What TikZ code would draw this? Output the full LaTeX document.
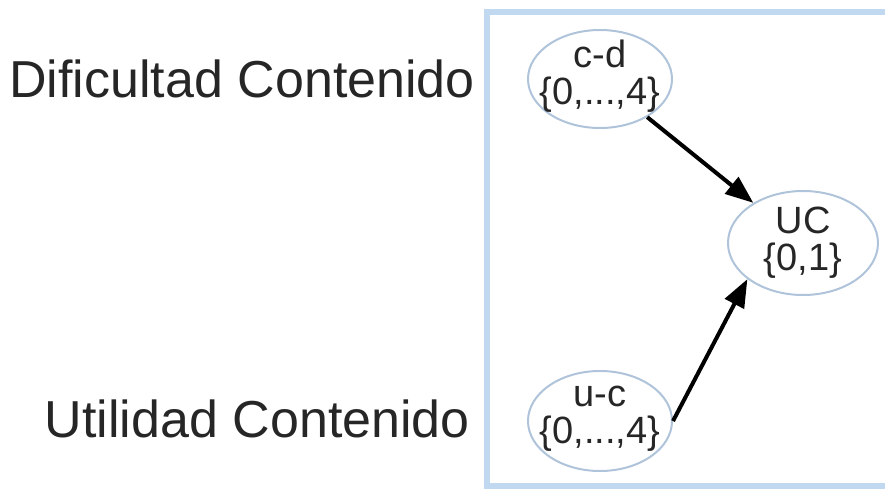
\documentclass[tikz,border=0pt]{standalone}
\usepackage{fontspec}
\setmainfont{Liberation Sans}
\usetikzlibrary{shapes.geometric,arrows.meta}
\definecolor{ovalcol}{RGB}{175,195,218}
\definecolor{framecol}{RGB}{192,216,240}
\begin{document}
\begin{tikzpicture}[x=1pt, y=-1pt,
    var/.style={draw=ovalcol, line width=2pt, ellipse, inner sep=-24pt, align=center,
        text=black!85, font=\fontsize{38}{37}\selectfont},
    caption/.style={anchor=base east, inner sep=0pt, text=black!85,
        font=\fontsize{52}{60}\selectfont},
    link/.style={-{Triangle[length=28pt, width=21pt]}, line width=4pt}]
    \useasboundingbox (0,0) rectangle (885,489);
    % Frame
    \draw[framecol, line width=6pt] (487,12) rectangle (900,485.5);
    % Nodes
    \node[caption] (dif) at (475,98)  {Dificultad Contenido};
    \node[caption] (uti) at (470,437) {Utilidad Contenido};
    \node[var, text depth=13pt, minimum width=144pt, minimum height=98pt]  (cd) at (600,79)  {c-d\\\{0,...,4\}};
    \node[var, minimum width=150pt, minimum height=104pt] (uc) at (803,243) {UC\\\{0,1\}};
    \node[var, text depth=13pt, minimum width=144pt, minimum height=100pt] (uc2) at (600,421) {u-c\\\{0,...,4\}};
    % Arrows connecting the nodes
    \draw[link] (cd) -- (uc);
    \draw[link] (uc2.east) -- (uc.213);
\end{tikzpicture}
\end{document}
